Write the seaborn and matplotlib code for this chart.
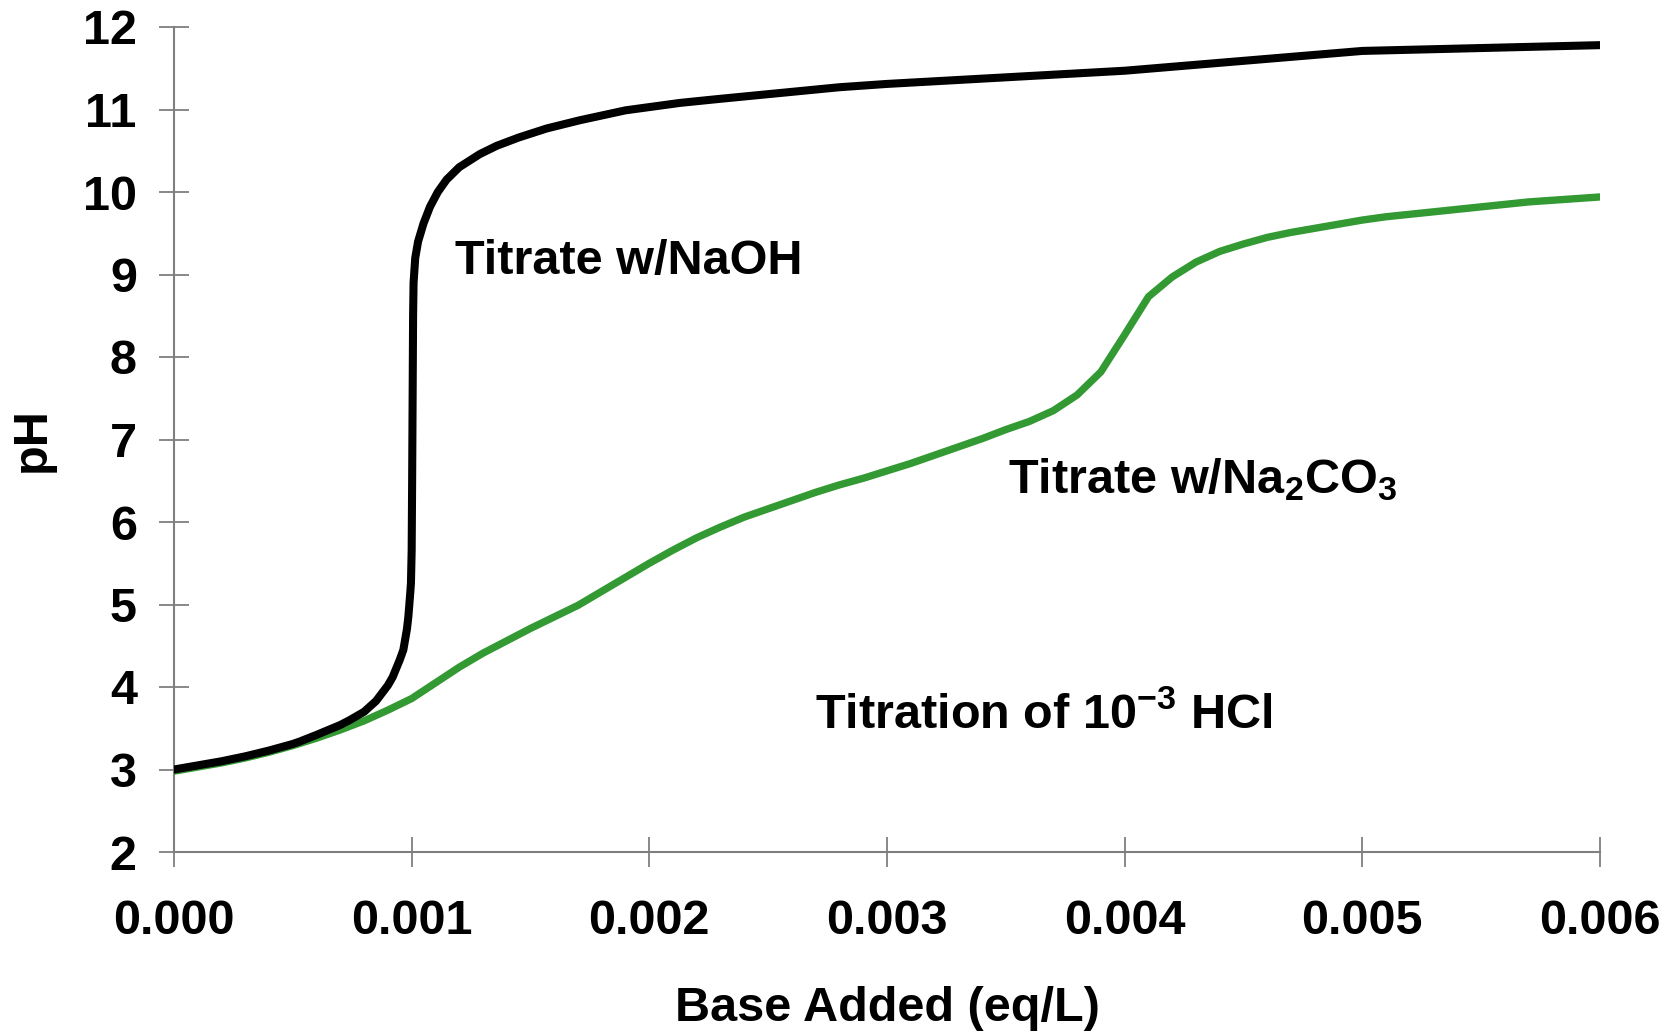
import numpy as np
import pandas as pd
import matplotlib
matplotlib.use("Agg")
import matplotlib.pyplot as plt
import seaborn as sns

# ---- data ----
naoh_x = [0.0, 0.0001, 0.0002, 0.0003, 0.0004, 0.0005, 0.00053, 0.0006, 0.0007, 0.00074,
          0.0008, 0.00085, 0.0009, 0.00092, 0.00095, 0.000965, 0.00098, 0.000986, 0.000993,
          0.000997, 0.001, 0.001002, 0.001004, 0.001006, 0.001008, 0.001015, 0.001027,
          0.00105, 0.001077, 0.00111, 0.001147, 0.0012, 0.001287, 0.001358, 0.00145,
          0.001568, 0.001708, 0.0019, 0.002129, 0.0023, 0.00255, 0.0028, 0.003, 0.004,
          0.005, 0.006]
naoh_ph = [3.00, 3.05, 3.10, 3.16, 3.23, 3.31, 3.34, 3.42, 3.54, 3.60,
           3.70, 3.83, 4.02, 4.12, 4.33, 4.45, 4.70, 4.85, 5.10,
           5.26, 5.66, 6.50, 7.50, 8.50, 8.90, 9.20, 9.40,
           9.62, 9.82, 10.00, 10.15, 10.30, 10.46, 10.56, 10.66,
           10.77, 10.87, 10.99, 11.08, 11.13, 11.20, 11.27, 11.31, 11.47,
           11.71, 11.78]

na2co3_x = [0.0, 0.0001, 0.0002, 0.0003, 0.0004, 0.0005, 0.0006, 0.0007, 0.0008, 0.0009,
            0.0010, 0.0011, 0.0012, 0.0013, 0.0014, 0.0015, 0.0016, 0.0017, 0.0018, 0.0019,
            0.0020, 0.0021, 0.0022, 0.0023, 0.0024, 0.0025, 0.0026, 0.0027, 0.0028, 0.0029,
            0.0030, 0.0031, 0.0032, 0.0033, 0.0034, 0.0035, 0.0036, 0.0037, 0.0038, 0.0039,
            0.0040, 0.0041, 0.0042, 0.0043, 0.0044, 0.0045, 0.0046, 0.0047, 0.0048, 0.0049,
            0.0050, 0.0051, 0.0052, 0.0053, 0.0054, 0.0055, 0.0056, 0.0057, 0.0058, 0.0059,
            0.0060]
na2co3_ph = [2.98, 3.03, 3.08, 3.14, 3.21, 3.29, 3.38, 3.48, 3.59, 3.72,
             3.86, 4.05, 4.24, 4.41, 4.56, 4.71, 4.85, 4.99, 5.16, 5.33,
             5.50, 5.66, 5.81, 5.94, 6.06, 6.16, 6.26, 6.36, 6.45, 6.53,
             6.62, 6.71, 6.81, 6.91, 7.01, 7.12, 7.22, 7.35, 7.54, 7.82,
             8.27, 8.73, 8.97, 9.15, 9.28, 9.37, 9.45, 9.51, 9.56, 9.61,
             9.66, 9.70, 9.73, 9.76, 9.79, 9.82, 9.85, 9.88, 9.90, 9.92,
             9.94]

x_ticks = [0.000, 0.001, 0.002, 0.003, 0.004, 0.005, 0.006]
x_tick_labels = ["0.000", "0.001", "0.002", "0.003", "0.004", "0.005", "0.006"]
y_ticks = [2, 3, 4, 5, 6, 7, 8, 9, 10, 11, 12]

series_names = ["NaOH", "Na2CO3"]

df = pd.concat([
    pd.DataFrame({"x": naoh_x, "pH": naoh_ph, "series": series_names[0]}),
    pd.DataFrame({"x": na2co3_x, "pH": na2co3_ph, "series": series_names[1]}),
], ignore_index=True)

# ---- style ----
sns.set_theme(style="white")
plt.rcParams["font.family"] = ["Liberation Sans", "DejaVu Sans"]
plt.rcParams["font.weight"] = "bold"
plt.rcParams["text.color"] = "black"
plt.rcParams["axes.labelcolor"] = "black"
plt.rcParams["xtick.labelcolor"] = "black"
plt.rcParams["ytick.labelcolor"] = "black"
plt.rcParams["mathtext.fontset"] = "custom"
plt.rcParams["mathtext.rm"] = "Liberation Sans:bold"
plt.rcParams["mathtext.bf"] = "Liberation Sans:bold"
plt.rcParams["mathtext.it"] = "Liberation Sans:bold"
plt.rcParams["mathtext.default"] = "bf"

FS = 35

fig = plt.figure(figsize=(16.76, 10.32), dpi=100)
ax = fig.add_axes([174 / 1676, 1 - 852 / 1032, (1600 - 174) / 1676, (852 - 27) / 1032])

palette = {"NaOH": "#000000", "Na2CO3": "#339933"}
sns.lineplot(data=df[df.series == "Na2CO3"], x="x", y="pH", color=palette["Na2CO3"],
             linewidth=5.3, estimator=None, sort=False, ax=ax, legend=False)
sns.lineplot(data=df[df.series == "NaOH"], x="x", y="pH", color=palette["NaOH"],
             linewidth=5.8, estimator=None, sort=False, ax=ax, legend=False)

ax.set_xlim(0, 0.006)
ax.set_ylim(2, 12)
ax.set_xticks(x_ticks)
ax.set_xticklabels(x_tick_labels)
ax.set_yticks(y_ticks)

for side in ["top", "right"]:
    ax.spines[side].set_visible(False)
for side in ["left", "bottom"]:
    ax.spines[side].set_color("#7f7f7f")
    ax.spines[side].set_linewidth(1.5)
    ax.spines[side].set_zorder(0.5)

ax.tick_params(axis="both", which="major", direction="inout", length=21.6, width=1.3,
               color="#7f7f7f", labelsize=FS, labelcolor="black", pad=16,
               bottom=True, left=True)
ax.tick_params(axis="x", pad=23)
for lab in ax.get_xticklabels() + ax.get_yticklabels():
    lab.set_fontweight("bold")

ax.set_xlabel("Base Added (eq/L)", fontsize=FS, fontweight="bold", labelpad=30,
              color="black")
ax.set_ylabel("pH", fontsize=FS, fontweight="bold", labelpad=20, color="black")

ax.text(0.001182, 9.006, "Titrate w/NaOH", fontsize=FS, fontweight="bold",
        ha="left", va="baseline", color="black")
ax.text(0.003509, 6.355, r"Titrate w/Na$_{2}$CO$_{3}$", fontsize=FS, fontweight="bold",
        ha="left", va="baseline", color="black")
ax.text(0.002695, 3.503, r"Titration of 10$^{-3}$ HCl", fontsize=FS, fontweight="bold",
        ha="left", va="baseline", color="black")

fig.savefig("out.png", dpi=100, facecolor="white")
